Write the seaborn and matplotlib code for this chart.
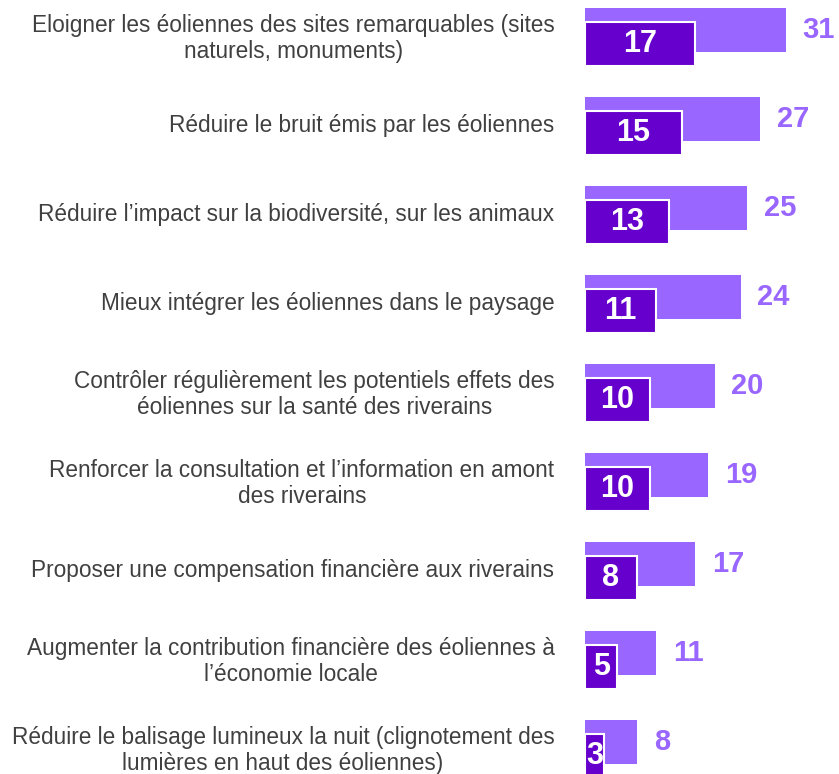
import numpy as np
import pandas as pd
import matplotlib
matplotlib.use("Agg")
import matplotlib.pyplot as plt
import seaborn as sns

# Data
labels = [
    "Eloigner les éoliennes des sites remarquables (sites\nnaturels, monuments)",
    "Réduire le bruit émis par les éoliennes",
    "Réduire l’impact sur la biodiversité, sur les animaux",
    "Mieux intégrer les éoliennes dans le paysage",
    "Contrôler régulièrement les potentiels effets des\néoliennes sur la santé des riverains",
    "Renforcer la consultation et l’information en amont\ndes riverains",
    "Proposer une compensation financière aux riverains",
    "Augmenter la contribution financière des éoliennes à\nl’économie locale",
    "Réduire le balisage lumineux la nuit (clignotement des\nlumières en haut des éoliennes)",
]
total = [31, 27, 25, 24, 20, 19, 17, 11, 8]
first = [17, 15, 13, 11, 10, 10, 8, 5, 3]

LIGHT = "#9966FF"
DARK = "#6600CC"
TEXT = "#404040"

sns.set_style("white")
plt.rcParams["font.family"] = ["Liberation Sans", "DejaVu Sans"]

df = pd.concat([
    pd.DataFrame({"label": labels, "value": total, "series": "total"}),
    pd.DataFrame({"label": labels, "value": first, "series": "first"}),
])

fig = plt.figure(figsize=(8.39, 7.74), dpi=100)
ax = fig.add_axes([585 / 839, 0, 1 - 585 / 839, 1])

sns.barplot(data=df, x="value", y="label", hue="series", dodge=False,
            palette={"total": LIGHT, "first": DARK}, width=0.5, saturation=1,
            orient="h", legend=False, ax=ax)

# shift the "first choice" bars a bit down so they overlap the totals
offset = 0.157
light_bars, dark_bars = ax.containers[0], ax.containers[1]
for p in dark_bars:
    p.set_y(p.get_y() + offset)
    p.set_edgecolor("white")
    p.set_linewidth(1.5)
for p in light_bars:
    p.set_linewidth(0)

for i, (t, f) in enumerate(zip(total, first)):
    ax.text(t + 2.6, i, str(t), color=LIGHT, fontsize=21, fontweight="bold",
            ha="left", va="center", clip_on=False)
    ax.text(f / 2, i + offset, str(f), color="white", fontsize=22,
            fontweight="bold", ha="center", va="center")

ax.set_xlim(0, (839 - 585) / 6.48)
ax.set_ylim((774 - 30) / 89, -30 / 89)
ax.set_yticks(np.arange(len(labels)) + 0.05)
ax.set_yticklabels(labels, fontsize=16.3, color=TEXT, multialignment="center",
                   linespacing=1.15)
ax.tick_params(axis="y", length=0, pad=22)
ax.set_xticks([])
ax.set_xlabel("")
ax.set_ylabel("")
sns.despine(ax=ax, left=True, bottom=True)

fig.savefig("out.png", dpi=100)
